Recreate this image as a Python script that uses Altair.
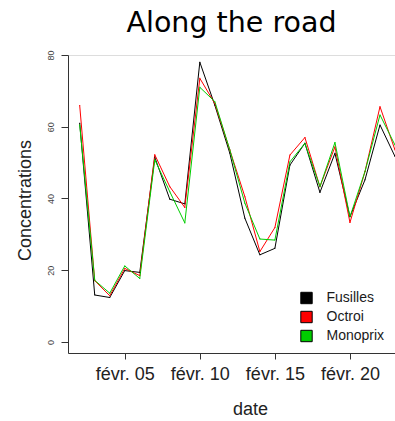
import altair as alt
import pandas as pd

days = list(range(2, 24))
fusilles = [61.0, 13.1, 12.4, 19.9, 19.4, 51.5, 39.8, 38.5, 78.0, 66.0, 52.6, 34.5, 24.3, 26.1, 49.3, 55.4, 41.7, 52.6, 34.9, 45.2, 60.5, 51.7]
octroi = [65.9, 17.1, 12.9, 20.5, 18.5, 52.2, 43.3, 37.5, 73.5, 66.5, 53.5, 40.5, 25.2, 31.9, 52.1, 57.0, 43.3, 54.4, 33.3, 47.5, 65.6, 53.5]
monoprix = [60.5, 17.2, 13.6, 21.2, 17.7, 50.8, 41.9, 33.2, 71.0, 67.0, 53.5, 38.7, 28.7, 28.4, 50.2, 55.4, 43.3, 55.6, 34.9, 47.5, 63.3, 54.9]
series = ["Fusilles", "Octroi", "Monoprix"]
colors = ["#000000", "#FF0000", "#00CD00"]
x_ticks = [5, 10, 15, 20]
y_ticks = [0, 20, 40, 60, 80]

rows = []
for name, vals in zip(series, [fusilles, octroi, monoprix]):
    for d, v in zip(days, vals):
        rows.append({"date": f"2015-02-{d:02d}T00:00:00", "site": name, "value": v})
df = pd.DataFrame(rows)

W, H = 327, 298
FONT = "Liberation Sans"

x_enc = alt.X(
    "date:T",
    title="date",
    scale=alt.Scale(
        domain=[alt.DateTime(year=2015, month=2, date=1, hours=5, minutes=17),
                alt.DateTime(year=2015, month=2, date=23)],
        nice=False,
    ),
    axis=alt.Axis(
        values=[alt.DateTime(year=2015, month=2, date=d) for d in x_ticks],
        labelExpr="'févr. ' + timeFormat(datum.value, '%d')",
        grid=False, tickSize=6, labelPadding=6, labelFontSize=18, labelFont=FONT,
        labelColor="#222222", domainColor="#333333", tickColor="#333333",
        titleFontSize=18, titleFont=FONT, titleFontWeight="normal", titleColor="#222222",
        titleX=182, titleY=61, titleBaseline="alphabetic", titleAlign="center",
        labelOverlap=False, labelFlush=False,
    ),
)
y_enc = alt.Y(
    "value:Q",
    title="Concentrations",
    scale=alt.Scale(domain=[-3.07, 80], nice=False, zero=False),
    axis=alt.Axis(
        values=y_ticks, grid=False, tickSize=7, labelAngle=270, labelAlign="center",
        labelBaseline="bottom", labelPadding=6, labelFontSize=9, labelFont=FONT,
        labelColor="#444444", domainColor="#333333", tickColor="#333333",
        titleFontSize=18, titleFont=FONT, titleFontWeight="normal", titleColor="#222222",
        titleX=-43, titleY=145, titleAngle=270, titleAlign="center", titleBaseline="middle",
    ),
)

lines = alt.Chart(df).mark_line(strokeWidth=1, clip=True).encode(
    x=x_enc,
    y=y_enc,
    color=alt.Color("site:N", scale=alt.Scale(domain=series, range=colors), legend=None),
    order=alt.Order("date:T"),
)

legend_layer = alt.Chart(df).transform_calculate(key="datum.site").mark_square(
    size=1, filled=True, opacity=1
).encode(
    x="date:T",
    y="value:Q",
    fill=alt.Fill(
        "key:N",
        scale=alt.Scale(domain=series, range=colors),
        legend=alt.Legend(
            title=None, orient="none", legendX=231.5, legendY=236, padding=0,
            symbolType="square", symbolSize=130, symbolStrokeColor="black", symbolStrokeWidth=1,
            symbolOpacity=1,
            labelFontSize=14, labelFont=FONT, labelColor="#1a1a1a", labelOffset=13,
            rowPadding=3,
        ),
    ),
)

chart = alt.layer(lines, legend_layer).resolve_scale(fill="independent").properties(
    width=W, height=H,
    title=alt.TitleParams("Along the road", fontSize=28.5, font="DejaVu Sans", fontWeight="normal",
                          anchor="middle", offset=12, color="#000000"),
    autosize=alt.AutoSizeParams(type="none"),
    padding={"left": 68, "top": 55, "right": 0, "bottom": 68},
).configure_view(stroke=None).configure(background="white")

chart.save("out.html", embed_options={"renderer": "svg", "actions": False})
